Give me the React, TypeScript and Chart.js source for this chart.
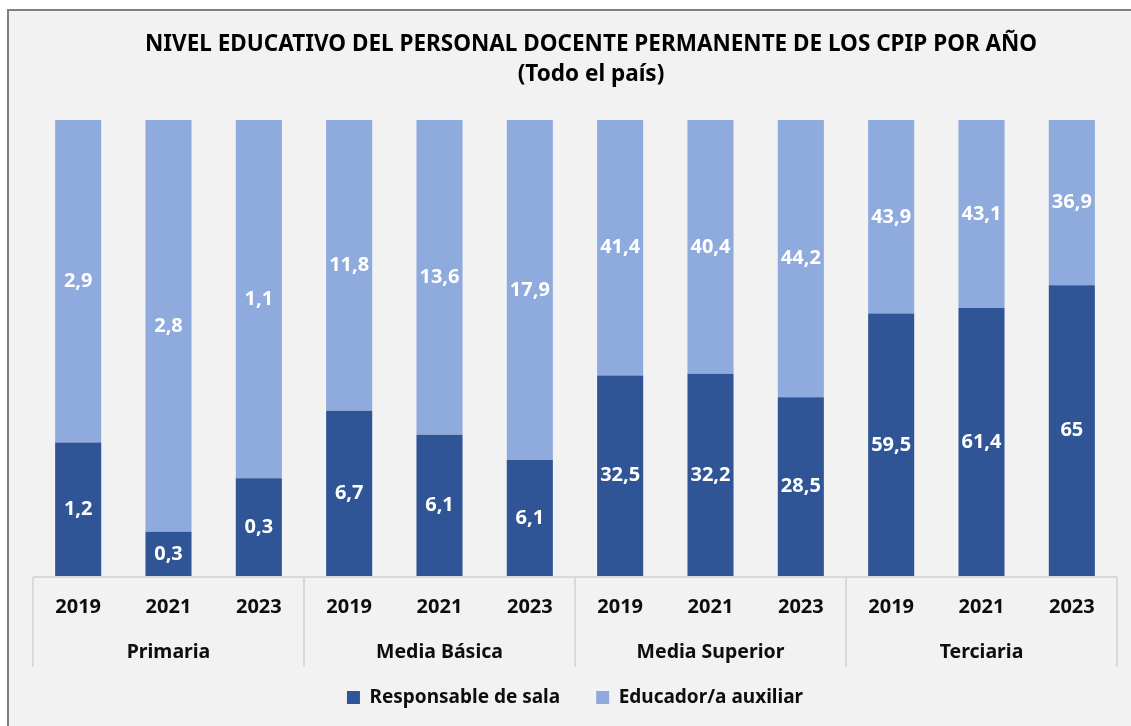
import { useEffect, useRef } from "react";
import { Chart, registerables } from "chart.js";

Chart.register(...registerables);

const FONT = "'Noto Sans', sans-serif";

const years = ["2019", "2021", "2023", "2019", "2021", "2023", "2019", "2021", "2023", "2019", "2021", "2023"];
const groups = ["Primaria", "Media Básica", "Media Superior", "Terciaria"];
const responsable = [1.2, 0.3, 0.3, 6.7, 6.1, 6.1, 32.5, 32.2, 28.5, 59.5, 61.4, 65];
const educador = [2.9, 2.8, 1.1, 11.8, 13.6, 17.9, 41.4, 40.4, 44.2, 43.9, 43.1, 36.9];
const titleLines = ["NIVEL EDUCATIVO DEL PERSONAL DOCENTE PERMANENTE DE LOS CPIP POR AÑO", "(Todo el país)"];

const rawSeries = [responsable, educador];
const share = (a: number[], b: number[]) => a.map((v, i) => (v / (v + b[i])) * 100);
const fmt = (v: number) => String(v).replace(".", ",");

const titlePlugin = {
  id: "offsetTitle",
  afterDraw(chart: any) {
    const { ctx, chartArea } = chart;
    ctx.save();
    ctx.font = `bold 22.5px ${FONT}`;
    ctx.fillStyle = "#000000";
    ctx.textAlign = "center";
    ctx.textBaseline = "middle";
    const cx = (chartArea.left + chartArea.right) / 2 + 16;
    titleLines.forEach((t, i) => {
      ctx.fillText(t, cx, 34 + i * 30);
    });
    ctx.restore();
  },
};

const groupAxisPlugin = {
  id: "groupAxis",
  afterDatasetsDraw(chart: any) {
    const { ctx, chartArea } = chart;
    const x = chart.scales.x;
    ctx.save();
    // data labels
    ctx.font = `bold 20px ${FONT}`;
    ctx.fillStyle = "#FFFFFF";
    ctx.textAlign = "center";
    ctx.textBaseline = "middle";
    chart.data.datasets.forEach((_: any, di: number) => {
      const meta = chart.getDatasetMeta(di);
      meta.data.forEach((bar: any, i: number) => {
        const p = bar.getProps(["x", "y", "base"], true);
        ctx.fillText(fmt(rawSeries[di][i]), p.x, (p.y + p.base) / 2);
      });
    });
    // category axis
    const y0 = chartArea.bottom + 1;
    ctx.strokeStyle = "#D9D9D9";
    ctx.lineWidth = 2;
    ctx.beginPath();
    ctx.moveTo(x.left, y0);
    ctx.lineTo(x.right, y0);
    const bounds = [x.left];
    for (let g = 1; g < groups.length; g++) {
      const i = g * 3;
      bounds.push((x.getPixelForValue(i - 1) + x.getPixelForValue(i)) / 2);
    }
    bounds.push(x.right);
    bounds.forEach((bx) => {
      ctx.moveTo(bx, y0);
      ctx.lineTo(bx, y0 + 90);
    });
    ctx.stroke();
    ctx.fillStyle = "#0D0D0D";
    ctx.font = `bold 20px ${FONT}`;
    years.forEach((yr, i) => {
      ctx.fillText(yr, x.getPixelForValue(i), y0 + 30);
    });
    ctx.font = `bold 19.5px ${FONT}`;
    groups.forEach((g, gi) => {
      ctx.fillText(g, (bounds[gi] + bounds[gi + 1]) / 2, y0 + 75);
    });
    ctx.restore();
  },
};

export default function App() {
  const ref = useRef<HTMLCanvasElement | null>(null);
  useEffect(() => {
    if (!ref.current) return;
    const chart = new Chart(ref.current, {
      type: "bar",
      data: {
        labels: years.map((y, i) => `${groups[Math.floor(i / 3)]} ${y}`),
        datasets: [
          {
            label: "Responsable de sala",
            data: share(responsable, educador),
            backgroundColor: "#2F5597",
            barPercentage: 0.51,
            categoryPercentage: 1,
          },
          {
            label: "Educador/a auxiliar",
            data: share(educador, responsable),
            backgroundColor: "#8FAADC",
            barPercentage: 0.51,
            categoryPercentage: 1,
          },
        ],
      },
      options: {
        responsive: false,
        animation: false,
        devicePixelRatio: 1,
        layout: { padding: { left: 24, right: 14, top: 109, bottom: 9 } },
        scales: {
          x: {
            stacked: true,
            grid: { display: false },
            border: { display: false },
            ticks: { display: false },
            afterFit: (s: any) => {
              s.height = 76;
            },
          },
          y: {
            stacked: true,
            display: false,
            min: 0,
            max: 100,
          },
        },
        plugins: {
          title: { display: false },
          legend: {
            position: "bottom",
            labels: {
              color: "#0D0D0D",
              font: { family: FONT, size: 19, weight: "bold" },
              boxWidth: 13,
              boxHeight: 13,
              padding: 36,
            },
          },
          tooltip: { enabled: false },
        },
      },
      plugins: [groupAxisPlugin, titlePlugin],
    });
    return () => chart.destroy();
  }, []);

  return (
    <div
      style={{
        position: "fixed",
        left: 7,
        top: 9,
        width: 1122,
        height: 715,
        borderLeft: "2px solid #7F7F7F",
        borderTop: "2px solid #7F7F7F",
        background: "#F2F2F2",
        overflow: "hidden",
      }}
    >
      <canvas ref={ref} width={1122} height={715} style={{ display: "block" }} />
    </div>
  );
}
